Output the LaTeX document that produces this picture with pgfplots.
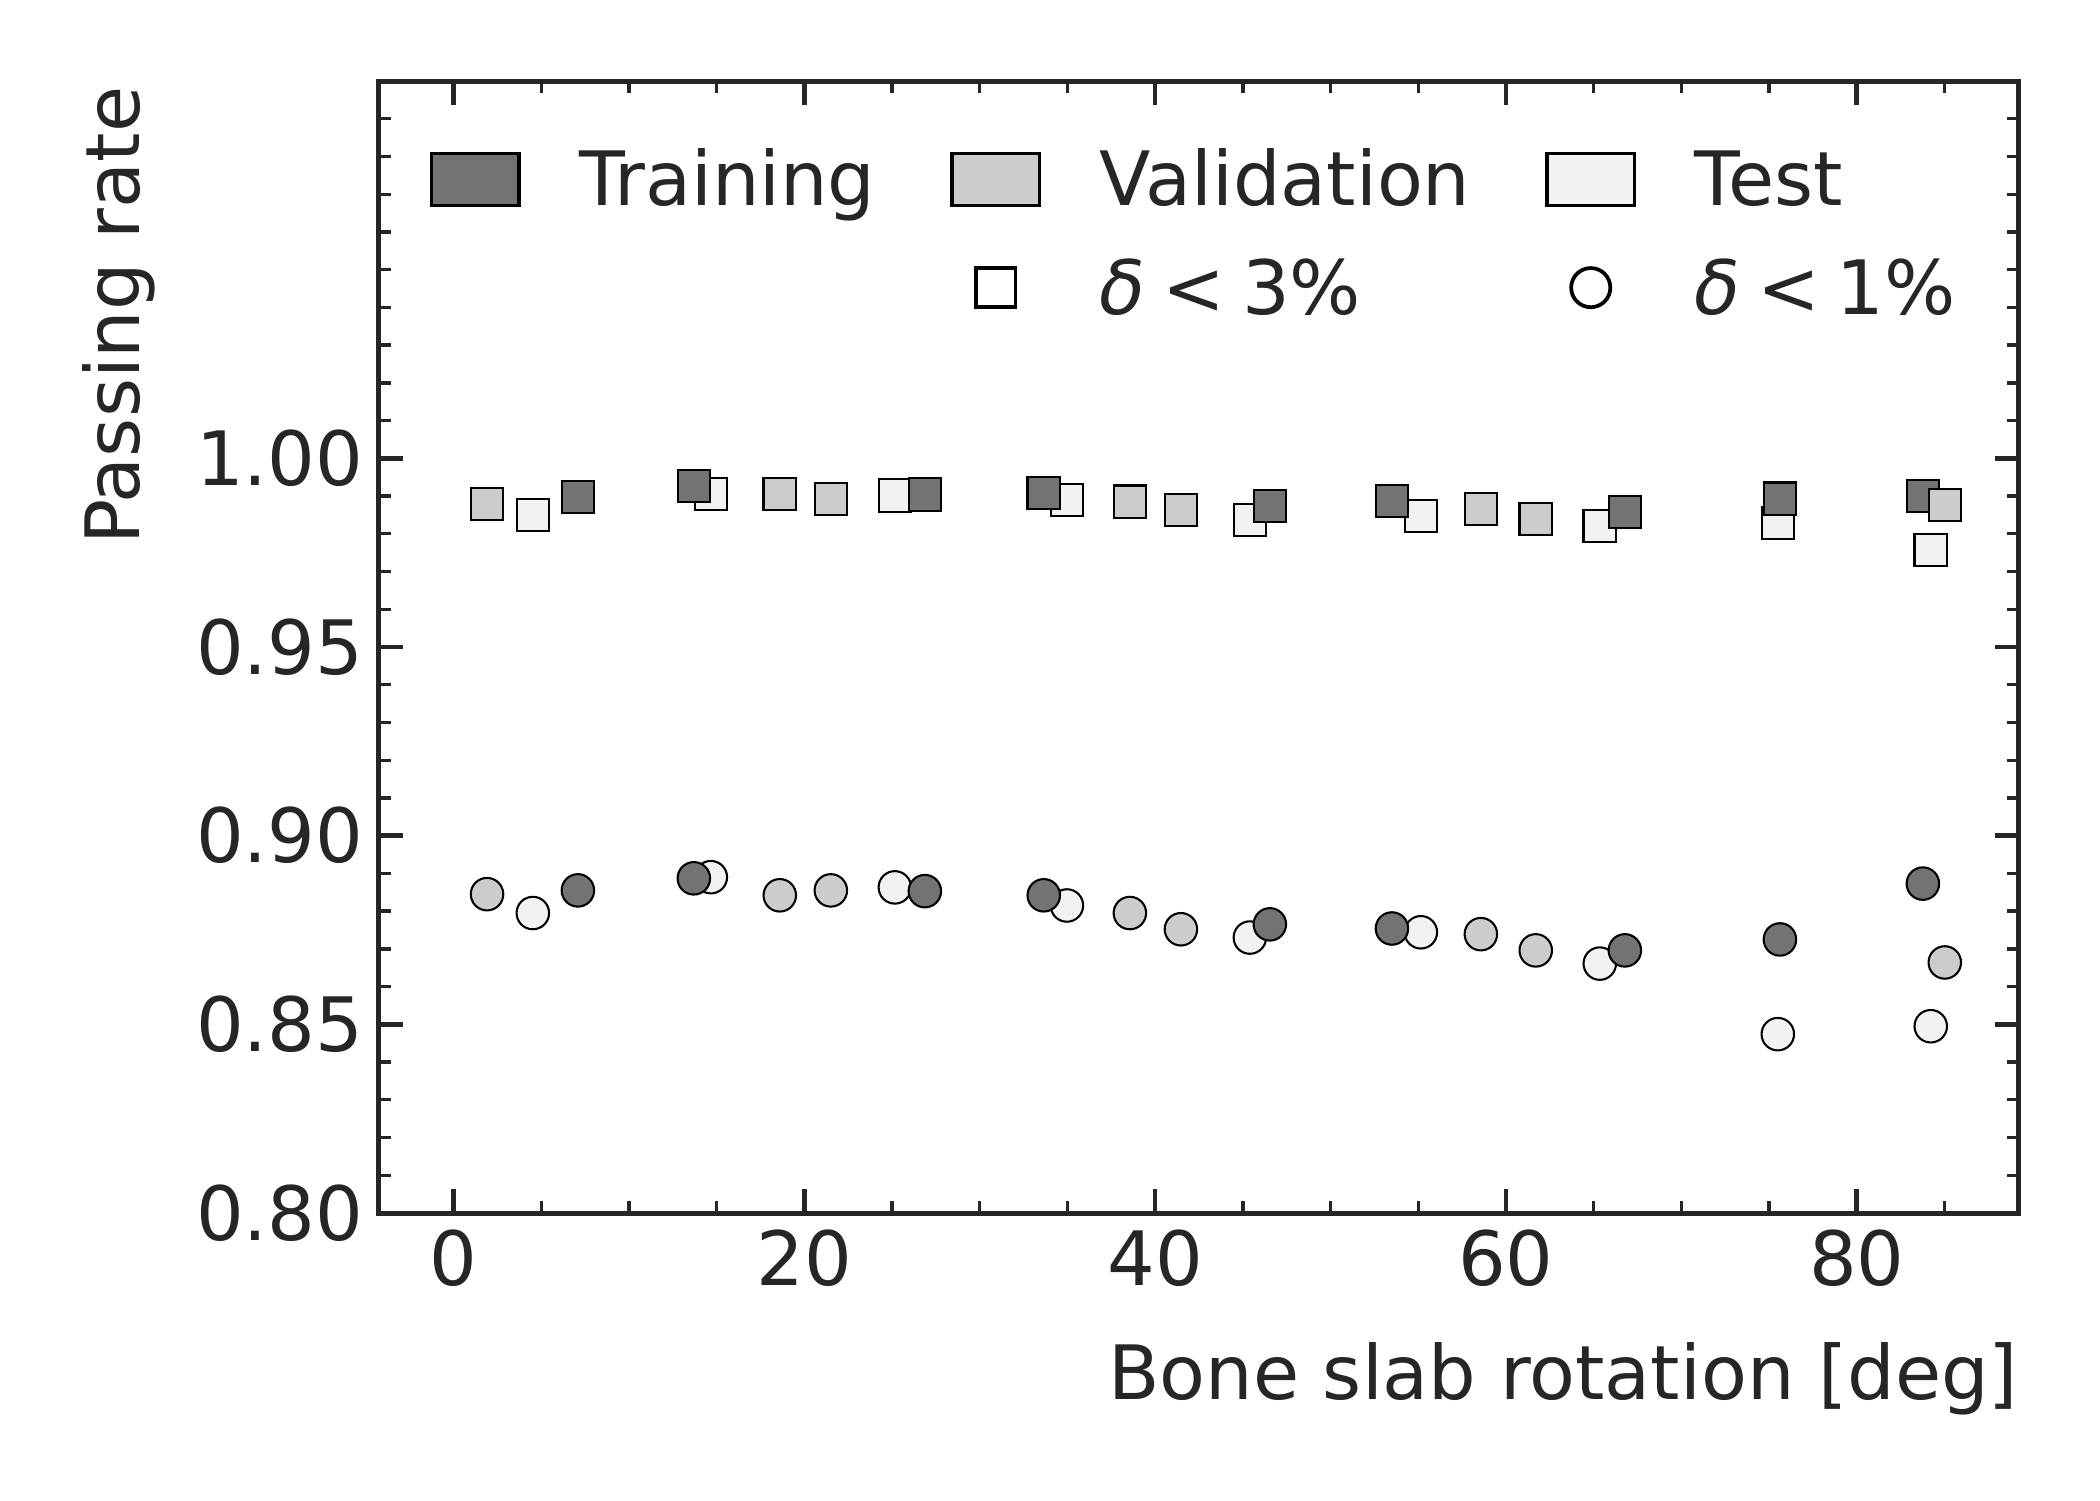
\documentclass[border=0pt]{standalone}
\usepackage{fontspec}
\setmainfont{DejaVu Sans}
\usepackage{pgfplots}
\pgfplotsset{compat=1.18}
\definecolor{ink}{HTML}{262626}
\definecolor{trainc}{HTML}{737373}
\definecolor{valc}{HTML}{CCCCCC}
\definecolor{testc}{HTML}{F2F2F2}
\newcommand{\bigfont}{\fontsize{18}{21.6}\selectfont}
\pgfplotsset{
  patchimg/.style={legend image code/.code={%
     \path[draw=none, fill=none] (-18pt,-6pt) rectangle (35.9pt,16pt);
     \draw[##1] (0.4pt,0.15pt) rectangle (21.4pt,12.65pt);}},
  markimg/.style={legend image code/.code={%
     \path[draw=none, fill=none] (-18pt,-6pt) rectangle (35.9pt,16pt);
     \draw[##1] plot coordinates {(10.9pt,6.4pt)};}},
  emptyimg/.style={legend image code/.code={%
     \path[draw=none, fill=none] (-18pt,-6pt) rectangle (35.9pt,16pt);}},
}
\begin{document}
\begin{tikzpicture}
\useasboundingbox (-90.96pt,-68.88pt) rectangle (413.04pt,291.12pt);
\begin{axis}[
  at={(0pt,0pt)}, anchor=south west,
  scale only axis, width=393.6pt, height=271.68pt,
  xmin=-4.25, xmax=89.25, ymin=0.8, ymax=1.1,
  xtick={0,20,40,60,80},
  minor xtick={5,10,15,25,30,35,45,50,55,65,70,75,85},
  ytick={0.80,0.85,0.90,0.95,1.00},
  minor ytick={0.81,0.82,0.83,0.84,0.86,0.87,0.88,0.89,0.91,0.92,0.93,0.94,0.96,0.97,0.98,0.99,1.01,1.02,1.03,1.04,1.05,1.06,1.07,1.08,1.09},
  tick align=inside,
  major tick length=5.8pt, minor tick length=2.9pt,
  major tick style={line width=1.1pt, color=ink},
  minor tick style={line width=0.8pt, color=ink},
  axis line style={ink, line width=1.2pt},
  /pgf/number format/assume math mode=true,
  yticklabel style={/pgf/number format/fixed, /pgf/number format/fixed zerofill, /pgf/number format/precision=2, font=\bigfont, text=ink, inner sep=0pt, anchor=east, xshift=-3.6pt},
  xticklabel style={font=\bigfont, text=ink, inner sep=0pt, anchor=north, yshift=-3.84pt},
  xlabel={Bone slab rotation [deg]},
  xlabel style={at={(axis description cs:1,-0.1643)}, anchor=base east, inner sep=0pt, font=\bigfont, text=ink},
  ylabel={Passing rate},
  ylabel style={at={(axis description cs:-0.1463,0.9956)}, anchor=base east, inner sep=0pt, font=\bigfont, text=ink},
  legend columns=3,
  legend style={draw=none, fill=none, inner sep=0pt, outer sep=0pt,
    at={(axis description cs:-0.0147,0.9485)}, anchor=north west,
    column sep=0pt, row sep=4.0pt, font=\bigfont,
    cells={anchor=base west}, nodes={inner sep=0pt, text=ink}},
]
\addlegendimage{patchimg, draw=black, fill=trainc, line width=0.8pt}
\addlegendentry{Training}
\addlegendimage{patchimg, draw=black, fill=valc, line width=0.8pt}
\addlegendentry{Validation}
\addlegendimage{patchimg, draw=black, fill=testc, line width=0.8pt}
\addlegendentry{Test}
\addlegendimage{emptyimg}
\addlegendentry{}
\addlegendimage{markimg, only marks, mark=square*, mark size=4.7pt, draw=black, fill=white, line width=0.9pt}
\addlegendentry{{\itshape δ}\kern4pt<\kern4pt3\%}
\addlegendimage{markimg, only marks, mark=*, mark size=4.7pt, draw=black, fill=white, line width=0.9pt}
\addlegendentry{{\itshape δ}\kern4pt<\kern4pt1\%}

% Test, delta < 3%
\addplot[forget plot, only marks, mark=square*, mark size=3.9pt, mark options={draw=black, fill=testc, line width=0.5pt}] coordinates {
(4.52,0.9850) (14.67,0.9905) (25.16,0.9901) (34.97,0.9890) (45.40,0.9837) (55.15,0.9847) (65.35,0.9821) (75.50,0.9829) (84.22,0.9757)};
% Test, delta < 1%
\addplot[forget plot, only marks, mark=*, mark size=3.9pt, mark options={draw=black, fill=testc, line width=0.5pt}] coordinates {
(4.52,0.8795) (14.67,0.8890) (25.16,0.8863) (34.97,0.8815) (45.40,0.8730) (55.15,0.8744) (65.35,0.8661) (75.50,0.8474) (84.22,0.8495)};
% Training, delta < 3%
\addplot[forget plot, only marks, mark=square*, mark size=3.9pt, mark options={draw=black, fill=trainc, line width=0.5pt}] coordinates {
(7.09,0.9898) (13.70,0.9927) (26.87,0.9904) (33.65,0.9908) (46.54,0.9874) (53.50,0.9887) (66.78,0.9858) (75.62,0.9893) (83.77,0.9900)};
% Training, delta < 1%
\addplot[forget plot, only marks, mark=*, mark size=3.9pt, mark options={draw=black, fill=trainc, line width=0.5pt}] coordinates {
(7.09,0.8855) (13.70,0.8887) (26.87,0.8853) (33.65,0.8842) (46.54,0.8765) (53.50,0.8754) (66.78,0.8696) (75.62,0.8725) (83.77,0.8873)};
% Validation, delta < 3%
\addplot[forget plot, only marks, mark=square*, mark size=3.9pt, mark options={draw=black, fill=valc, line width=0.5pt}] coordinates {
(1.91,0.9879) (18.60,0.9906) (21.51,0.9892) (38.56,0.9885) (41.47,0.9863) (58.57,0.9866) (61.70,0.9839) (85.02,0.9876)};
% Validation, delta < 1%
\addplot[forget plot, only marks, mark=*, mark size=3.9pt, mark options={draw=black, fill=valc, line width=0.5pt}] coordinates {
(1.91,0.8845) (18.60,0.8842) (21.51,0.8855) (38.56,0.8795) (41.47,0.8752) (58.57,0.8739) (61.70,0.8696) (85.02,0.8664)};
\end{axis}
\end{tikzpicture}
\end{document}
